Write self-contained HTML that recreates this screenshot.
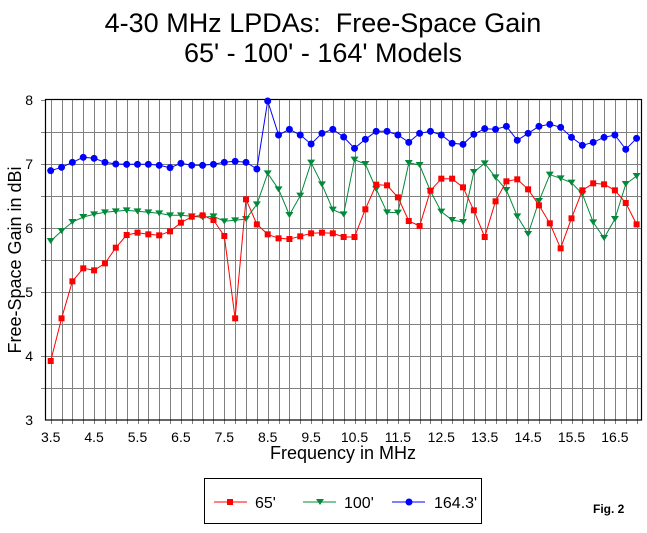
<!DOCTYPE html>
<html><head><meta charset="utf-8"><style>
body{margin:0;background:#fff}
svg text{font-family:"Liberation Sans",Arial,sans-serif;white-space:pre}
</style></head><body>
<svg id="s" width="647" height="528" xmlns="http://www.w3.org/2000/svg">
<rect width="647" height="528" fill="#fff"/>
<text x="323" y="32" font-size="27" text-anchor="middle" xml:space="preserve">4-30 MHz LPDAs:  Free-Space Gain</text>
<text x="323" y="62" font-size="27" text-anchor="middle">65' - 100' - 164' Models</text>
<g id="grid" stroke="#808080" stroke-width="1"></g>
<rect x="45.5" y="99.5" width="596" height="320.5" fill="none" stroke="#000" stroke-width="1.2"/>
<g id="ticks" font-size="14"></g>
<g id="series"></g>
<text x="21" y="260" font-size="18" text-anchor="middle" transform="rotate(-90 21 260)">Free-Space Gain in dBi</text>
<text x="343" y="459" font-size="18" text-anchor="middle">Frequency in MHz</text>
<rect x="204.5" y="478.5" width="277" height="45" fill="none" stroke="#000"/>
<line x1="214" y1="502" x2="247" y2="502" stroke="#f00"/><rect x="227" y="499" width="6" height="6" fill="#f00"/>
<text x="255" y="508" font-size="16">65'</text>
<line x1="303" y1="502" x2="336" y2="502" stroke="#008a3a"/><polygon points="316,499 324,499 320,505" fill="#008a3a"/>
<text x="344" y="508" font-size="16">100'</text>
<line x1="392" y1="502" x2="425" y2="502" stroke="#00f"/><circle cx="409" cy="502" r="3.5" fill="#00f"/>
<text x="434" y="508" font-size="16">164.3'</text>
<text x="593" y="513" font-size="12" font-weight="bold">Fig. 2</text>
</svg>
<script>
var NS="http://www.w3.org/2000/svg";
function el(t,a,p){var e=document.createElementNS(NS,t);for(var k in a)e.setAttribute(k,a[k]);p.appendChild(e);return e;}
var g=document.getElementById('grid'),tk=document.getElementById('ticks'),se=document.getElementById('series');
function X(i){return 50.7+10.85*i;}
function Yz(z){return 90+z/3;}
for(var i=0;i<55;i++){var x=Math.round(X(i))+0.5;el('line',{x1:x,y1:100,x2:x,y2:424},g);}
for(var j=1;j<10;j++){var y=100+32*j+0.5;el('line',{x1:41,y1:y,x2:642,y2:y},g);}
el('line',{x1:41,y1:100.5,x2:45,y2:100.5,stroke:'#808080'},g);
for(var v=3;v<=8;v++){var t=el('text',{x:33,y:100+(8-v)*64+5,'text-anchor':'end'},tk);t.textContent=v;}
for(var k=0;k<14;k++){var t=el('text',{x:X(k*4),y:442,'text-anchor':'middle'},tk);t.textContent=(3.5+k).toFixed(1);}
var blue=[242,232,217,202,205,217,222,223,223,223,226,233,220,226,226,223,217,214,217,237,33,135,118,135,162,130,
118,141,175,148,124,124,135,157,130,124,135,160,163,133,116,118,109,151,130,109,103,112,142,166,157,142,135,178,145];
var green=[453,423,396,381,373,367,364,361,364,367,370,376,376,379,382,379,394,391,387,343,250,298,375,317,218,283,
359,373,209,222,297,367,368,219,225,303,365,390,396,246,220,262,300,379,432,333,254,265,278,312,397,444,387,282,258];
var red=[813,685,574,535,541,520,473,435,428,433,436,424,398,380,376,390,438,685,328,403,433,445,447,439,430,428,
430,441,441,358,284,286,322,393,408,302,266,266,292,361,441,334,274,268,298,346,400,475,385,301,280,283,301,339,403];
function draw(d,col,m){var p=d.map(function(z,i){return X(i).toFixed(1)+','+Yz(z).toFixed(1);}).join(' ');
el('polyline',{points:p,fill:'none',stroke:col,'stroke-width':1},se);
d.forEach(function(z,i){var x=X(i),y=Yz(z);
if(m=='s')el('rect',{x:x-3,y:y-3,width:6,height:6,fill:col},se);
else if(m=='t')el('polygon',{points:(x-4)+','+(y-3)+' '+(x+4)+','+(y-3)+' '+x+','+(y+3),fill:col},se);
else el('circle',{cx:x,cy:y,r:3.5,fill:col},se);});}
draw(green,'#008a3a','t');draw(red,'#f00','s');draw(blue,'#00f','c');
</script>
</body></html>
